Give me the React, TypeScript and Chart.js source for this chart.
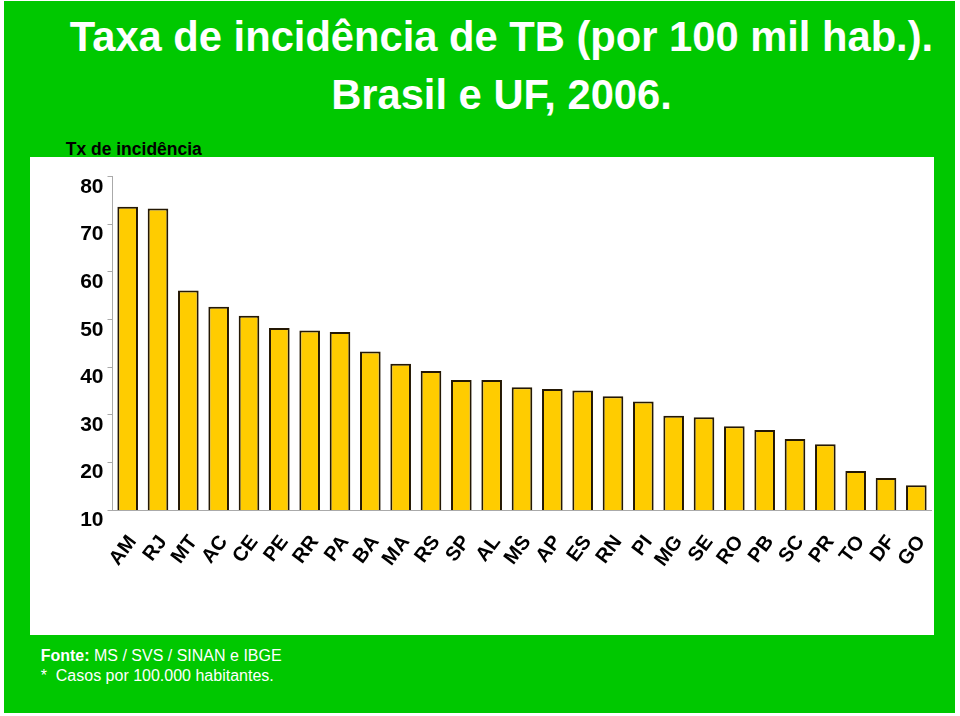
import React, { useEffect, useRef } from "react";
import { Chart, registerables } from "chart.js";

Chart.register(...registerables);

const categories = ["AM", "RJ", "MT", "AC", "CE", "PE", "RR", "PA", "BA", "MA", "RS", "SP", "AL", "MS", "AP", "ES", "RN", "PI", "MG", "SE", "RO", "PB", "SC", "PR", "TO", "DF", "GO"];
const incidencia = [73.7, 73.3, 56.1, 52.7, 50.8, 48.2, 47.7, 47.4, 43.3, 40.7, 39.2, 37.3, 37.3, 35.8, 35.4, 35.1, 33.9, 32.8, 29.8, 29.5, 27.6, 26.8, 24.9, 23.8, 18.2, 16.7, 15.2];
const yMin = 10;
const yMax = 80;
const yStep = 10;

const titleLines = ["Taxa de incidência de TB (por 100 mil hab.).", "Brasil e UF, 2006."];
const yAxisTitle = "Tx de incidência";

const FONT = '"Liberation Sans", Arial, Helvetica, sans-serif';
const GREEN = "#00c800";

export default function App() {
  const canvasRef = useRef<HTMLCanvasElement | null>(null);

  useEffect(() => {
    const canvas = canvasRef.current;
    if (!canvas) return;
    const chart = new Chart(canvas, {
      type: "bar",
      data: {
        labels: categories,
        datasets: [
          {
            data: incidencia,
            backgroundColor: "#ffcc00",
            borderColor: "#241804",
            borderWidth: 2,
            borderSkipped: false,
            barPercentage: 0.68,
            categoryPercentage: 1,
          },
        ],
      },
      options: {
        animation: false,
        responsive: false,
        maintainAspectRatio: false,
        layout: { padding: { left: 0, right: 2.5, top: 19.7, bottom: 0 } },
        plugins: {
          legend: { display: false },
          tooltip: { enabled: false },
          title: { display: false },
        },
        scales: {
          x: {
            grid: { display: false, drawTicks: false },
            border: { display: true, color: "#aaaaaa", width: 1 },
            ticks: {
              autoSkip: false,
              minRotation: 53,
              maxRotation: 53,
              padding: 21,
              labelOffset: 5,
              color: "#000000",
              font: { family: FONT, size: 20, weight: "bold" },
            },
            afterFit: (scale: any) => {
              scale.height = 125;
              scale.paddingLeft = 0;
              scale.paddingRight = 0;
            },
          },
          y: {
            min: yMin,
            max: yMax,
            grid: {
              drawOnChartArea: false,
              drawTicks: true,
              tickLength: 5,
              color: "#aaaaaa",
            },
            border: { display: true, color: "#aaaaaa", width: 1 },
            ticks: {
              stepSize: yStep,
              padding: 4,
              color: "#000000",
              font: { family: FONT, size: 21, weight: "bold", lineHeight: 0.98 },
              callback: (v: any) => ["", String(v)],
            },
            afterFit: (scale: any) => {
              scale.width = 82.5;
              scale.paddingTop = 0;
              scale.paddingBottom = 0;
            },
          },
        },
      },
    });
    return () => chart.destroy();
  }, []);

  return (
    <div style={{ position: "fixed", left: 0, top: 0, width: 960, height: 716, background: "#ffffff", fontFamily: FONT }}>
      <div style={{ position: "absolute", left: 4, top: 1, width: 951, height: 712, background: GREEN }} />
      <div
        style={{
          position: "absolute",
          left: 51.5,
          top: 8.3,
          width: 900,
          textAlign: "center",
          color: "#ffffff",
          fontWeight: "bold",
          fontSize: 41.7,
          lineHeight: "58px",
          whiteSpace: "nowrap",
        }}
      >
        <div>{titleLines[0]}</div>
        <div>{titleLines[1]}</div>
      </div>
      <div
        style={{
          position: "absolute",
          left: 65.7,
          top: 139,
          color: "#000000",
          fontWeight: "bold",
          fontSize: 17.5,
          lineHeight: "20px",
          whiteSpace: "nowrap",
        }}
      >
        {yAxisTitle}
      </div>
      <div style={{ position: "absolute", left: 30, top: 157, width: 904, height: 478, background: "#ffffff" }}>
        <canvas ref={canvasRef} width={904} height={478} style={{ display: "block", width: 904, height: 478 }} />
      </div>
      <div
        style={{
          position: "absolute",
          left: 40.7,
          top: 646.2,
          color: "#ffffff",
          fontSize: 16,
          lineHeight: "20px",
          whiteSpace: "pre",
        }}
      >
        <div>
          <b>Fonte:</b> MS / SVS / SINAN e IBGE
        </div>
        <div>{"*  Casos por 100.000 habitantes."}</div>
      </div>
    </div>
  );
}
